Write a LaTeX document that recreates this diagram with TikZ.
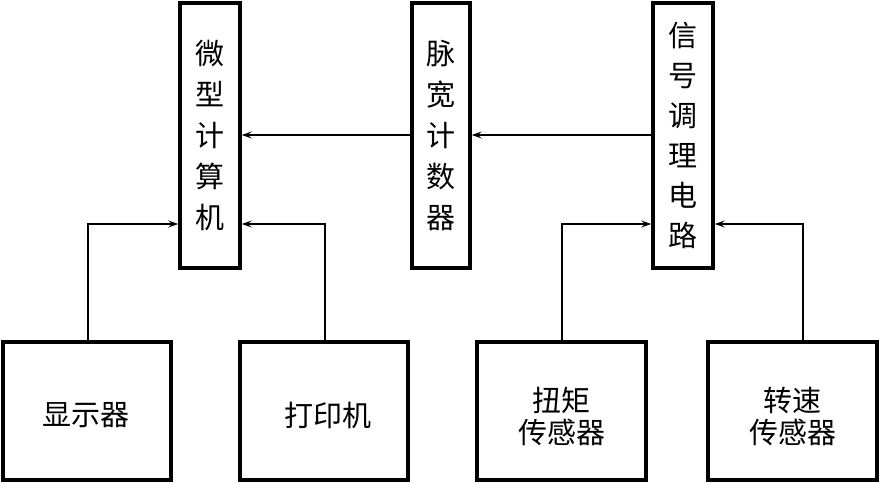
\documentclass[tikz,border=0pt]{standalone}
\usepackage{fontspec}
\setmainfont{Noto Sans CJK SC}
\usetikzlibrary{arrows.meta,calc}
\begin{document}
\begin{tikzpicture}[x=1pt,y=-1pt,
  blk/.style={draw,line width=3.6pt,inner sep=0pt},
  txt/.style={inner sep=0pt,align=center,font=\fontsize{29}{32}\selectfont},
  vtxt/.style={inner sep=0pt,align=center,font=\fontsize{29}{41}\selectfont},
  con/.style={line width=1.2pt,-{Stealth[length=10pt,width=7pt,inset=4pt]}}]
\useasboundingbox (0,0) rectangle (879,484);
\node[blk,minimum width=60,minimum height=265] (mc) at (210,135.5) {};
\node[blk,minimum width=58,minimum height=265] (pw) at (441,135.5) {};
\node[blk,minimum width=60,minimum height=265] (sc) at (683,135.5) {};
\node[blk,minimum width=168,minimum height=138] (disp) at (87,411) {};
\node[blk,minimum width=168,minimum height=138] (prn) at (324,411) {};
\node[blk,minimum width=169,minimum height=138] (tq) at (561.5,411) {};
\node[blk,minimum width=169,minimum height=138] (sp) at (792.5,411) {};
\node[vtxt] (mct) at (mc.center) {微\\型\\计\\算\\机};
\node[vtxt] (pwt) at (pw.center) {脉\\宽\\计\\数\\器};
\node[txt,font=\fontsize{29}{40}\selectfont] (sct) at (sc.center) {信\\号\\调\\理\\电\\路};
\node[txt] (dispt) at ($(disp.center)+(-1,4)$) {显示器};
\node[txt] (prnt) at ($(prn.center)+(4,4)$) {打印机};
\node[txt] (tqt) at ($(tq.center)+(0,5)$) {扭矩\\传感器};
\node[txt] (spt) at ($(sp.center)+(0,5)$) {转速\\传感器};
\coordinate (y1) at (0,135);
\coordinate (y2) at (0,224);
\coordinate (a1) at (88,342);
\coordinate (a2) at (325,342);
\coordinate (a3) at (562,342);
\coordinate (a4) at (803,342);
\draw[con] (sc.west |- y1) -- (pw.east |- y1);
\draw[con] (pw.west |- y1) -- (mc.east |- y1);
\draw[con] (a1) |- (mc.west |- y2);
\draw[con] (a2) |- (mc.east |- y2);
\draw[con] (a3) |- (sc.west |- y2);
\draw[con] (a4) |- (sc.east |- y2);
\end{tikzpicture}
\end{document}
